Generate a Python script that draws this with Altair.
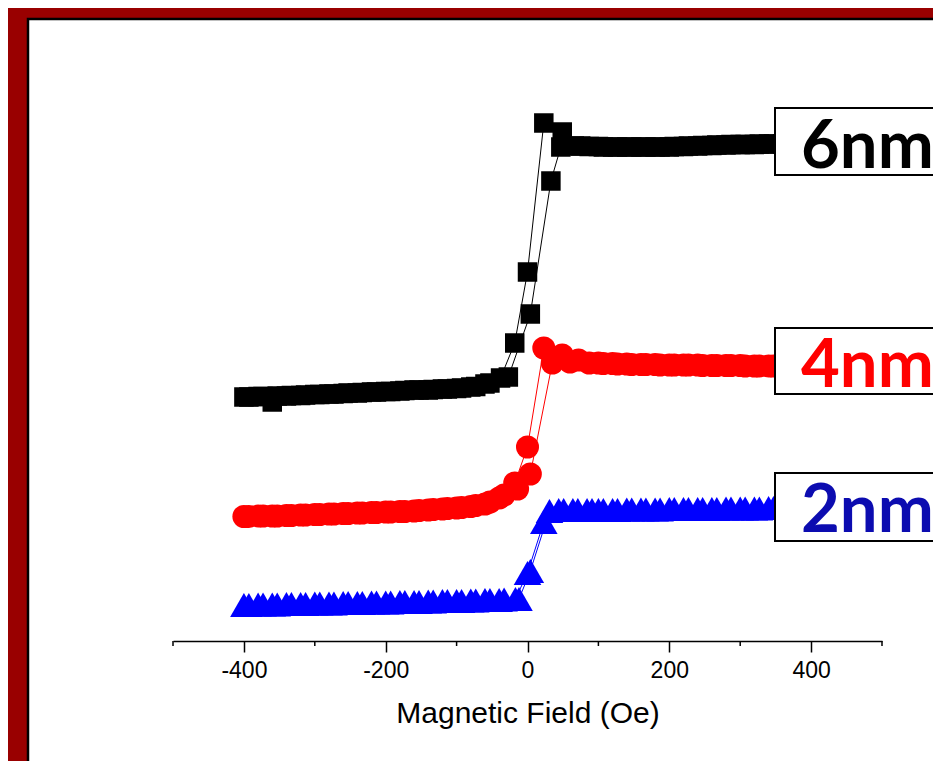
import altair as alt
import pandas as pd

BG = "#990000"
SERIES = ["6nm", "4nm", "2nm"]
COLORS = ["#000000", "#FF0000", "#0000FF"]
LABEL_COLORS = ["#000000", "#FF0000", "#0C0CB0"]
X_TICKS = [-400, -200, 0, 200, 400]
X_MINOR = [-500, -300, -100, 100, 300, 500]

# ---- 6 nm (black squares) ----
H6_A = [-400, -380, -360, -340, -320, -300, -280, -260, -240, -220, -200, -180, -160, -140,
        -120, -100, -80, -60, -38, -18, 0, 23, 49, 75, 100, 120, 140, 160, 180, 200, 220, 240,
        260, 280, 300, 320, 340, 360, 380, 400]
M6_A = [244, 244.5, 239, 245, 245.5, 246.5, 247, 247.5, 248, 249, 249.5, 250, 251, 251,
        252, 252.5, 254, 257, 263, 298, 369, 518, 509, 495, 494.5, 494, 494, 494, 494, 494,
        494.5, 495, 495.5, 496, 496.5, 496.5, 497, 497, 497.5, 497.5]
H6_B = [-393, -373, -353, -333, -313, -293, -273, -253, -233, -213, -193, -173, -153, -133,
        -113, -93, -73, -53, -27, 4, 33, 47, 66, 87, 107, 127, 147, 167, 187, 207, 227, 247,
        267, 287, 307, 327, 347, 367, 387]
M6_B = [244, 244.5, 245, 245.5, 246, 246.5, 247, 248, 248.5, 249, 249.5, 250.5, 251, 251.5,
        252, 253, 254.5, 258, 264, 327, 460, 494, 495, 494.5, 494, 494, 494, 494, 494, 494.5,
        495, 495.5, 496, 496.5, 496.5, 497, 497, 497.5, 497.5]

# ---- 4 nm (red circles) ----
H4_A = [-400, -380, -360, -340, -320, -300, -280, -260, -240, -220, -200, -180, -160, -140,
        -120, -100, -80, -60, -40, -18, 0, 23, 49, 72, 100, 120, 140, 160, 180, 200, 220, 240,
        260, 280, 300, 320, 340, 360, 380, 400]
M4_A = [124.5, 125, 125, 125.5, 126, 126.5, 127, 127.5, 128, 128.5, 129, 129.5, 130, 131,
        132, 133, 134.5, 137, 143, 158, 194, 293, 286, 281, 278, 277.5, 277, 276.5, 276.5, 276,
        276, 276, 275.5, 275.5, 275.5, 275, 275, 275, 275, 275]
H4_B = [-393, -373, -353, -333, -313, -293, -273, -253, -233, -213, -193, -173, -153, -133,
        -113, -93, -73, -53, -33, -14, 4, 35, 60, 87, 107, 127, 147, 167, 187, 207, 227, 247,
        267, 287, 307, 327, 347, 367, 387]
M4_B = [124.5, 125, 125, 125.5, 126, 126.5, 127, 127.5, 128, 128.5, 129, 129.5, 130.5, 131.5,
        132.5, 133.5, 135.5, 139, 146, 152, 167, 278, 279, 278, 277.5, 277, 276.5, 276.5, 276,
        276, 276, 275.5, 275.5, 275.5, 275, 275, 275, 275, 275]

# ---- 2 nm (blue triangles) ----
H2_A = [-400, -380, -360, -340, -320, -300, -280, -260, -240, -220, -200, -180, -160, -140,
        -120, -100, -80, -60, -40, -17, 0, 23, 44, 64, 84, 100, 120, 140, 160, 180, 200, 220,
        240, 260, 280, 300, 320, 340, 360, 380, 400]
M2_A = [36, 36.5, 36.5, 37, 37, 37.5, 37.5, 38, 38, 38.5, 38.5, 39, 39, 39.5, 40, 40, 40.5,
        41, 41, 42, 68, 119, 131, 131, 131, 131, 131, 131.5, 131.5, 131.5, 132, 132, 132, 132,
        132.5, 132.5, 132.5, 133, 133, 133, 133]
H2_B = [-393, -373, -353, -333, -313, -293, -273, -253, -233, -213, -193, -173, -153, -133,
        -113, -93, -73, -53, -33, -12, 4, 31, 51, 71, 91, 107, 127, 147, 167, 187, 207, 227,
        247, 267, 287, 307, 327, 347, 367, 387]
M2_B = [36, 36.5, 36.5, 37, 37, 37.5, 37.5, 38, 38, 38.5, 38.5, 39, 39, 39.5, 40, 40, 40.5,
        41, 41.5, 42, 70, 130, 131, 131, 131, 131, 131, 131.5, 131.5, 131.5, 132, 132, 132,
        132, 132.5, 132.5, 132.5, 133, 133, 133]

rows = []
def add(series, branch, hs, ms):
    for i, (h, m) in enumerate(zip(hs, ms)):
        rows.append({"series": series, "branch": series + branch, "order": i, "H": h, "M": m})

add("6nm", "A", H6_A, M6_A)
add("6nm", "B", H6_B, M6_B)
add("4nm", "A", H4_A, M4_A)
add("4nm", "B", H4_B, M4_B)
add("2nm", "A", H2_A, M2_A)
add("2nm", "B", H2_B, M2_B)
df = pd.DataFrame(rows)

xscale = alt.Scale(domain=[-500, 500], nice=False, zero=False)
yscale = alt.Scale(domain=[0, 600], nice=False, zero=False)
xaxis = alt.Axis(values=X_TICKS, title="Magnetic Field (Oe)", grid=False, tickSize=11,
                 tickWidth=1.5, tickColor="black", domainColor="black", domainWidth=1.5,
                 labelExpr="'' + datum.value",
                 labelFont="Liberation Sans", labelFontSize=23, labelColor="black",
                 labelPadding=7, titleFont="Liberation Sans", titleFontSize=30,
                 titleFontWeight="normal", titleColor="black", titlePadding=16, zindex=1)
X = alt.X("H:Q", scale=xscale, axis=xaxis)
Y = alt.Y("M:Q", scale=yscale, axis=None)

one = pd.DataFrame({"a": [0]})

panel = alt.Chart(one).mark_rect(fill="white", stroke="black", strokeWidth=2.5).encode(
    x=alt.value(-145), x2=alt.value(900), y=alt.value(-22), y2=alt.value(900))

lines = alt.Chart(df).mark_line(strokeWidth=1).encode(
    x=X, y=Y,
    color=alt.Color("series:N", scale=alt.Scale(domain=SERIES, range=COLORS), legend=None),
    detail="branch:N", order="order:Q")

shapes = {"6nm": ("square", 380), "4nm": ("circle", 530), "2nm": ("triangle-up", 760)}
point_layers = []
for s, c in zip(["2nm", "4nm", "6nm"], ["#0000FF", "#FF0000", "#000000"]):
    shp, sz = shapes[s]
    point_layers.append(
        alt.Chart(df).transform_filter(alt.datum.series == s).mark_point(
            shape=shp, size=sz, filled=True, color=c, opacity=1, strokeWidth=0
        ).encode(x=X, y=Y))

minor = alt.Chart(pd.DataFrame({"H": X_MINOR})).mark_rule(color="black", strokeWidth=1.5).encode(
    x=X, y=alt.value(600), y2=alt.value(605))

box_specs = [("6nm", LABEL_COLORS[0], 67, 134, 127.3),
             ("4nm", LABEL_COLORS[1], 287, 353, 345.7),
             ("2nm", LABEL_COLORS[2], 432, 500, 490.7)]
deco = []
for label, col, y0, y1, yb in box_specs:
    deco.append(alt.Chart(one).mark_rect(fill="white", stroke="black", strokeWidth=2).encode(
        x=alt.value(602), x2=alt.value(900), y=alt.value(y0), y2=alt.value(y1)))
    deco.append(alt.Chart(one).mark_text(text=label, font="Lato", fontWeight="bold", fontSize=67,
                                          color=col, align="left", baseline="alphabetic").encode(
        x=alt.value(628), y=alt.value(yb)))

chart = alt.layer(panel, lines, *point_layers, minor, *deco).properties(
    width=709, height=600, background=BG,
    padding={"left": 165, "top": 33, "right": 51, "bottom": 120},
    autosize=alt.AutoSizeParams(type="none"),
).configure_view(strokeWidth=0)

chart.save("out.html", embed_options={"renderer": "svg", "actions": False})
